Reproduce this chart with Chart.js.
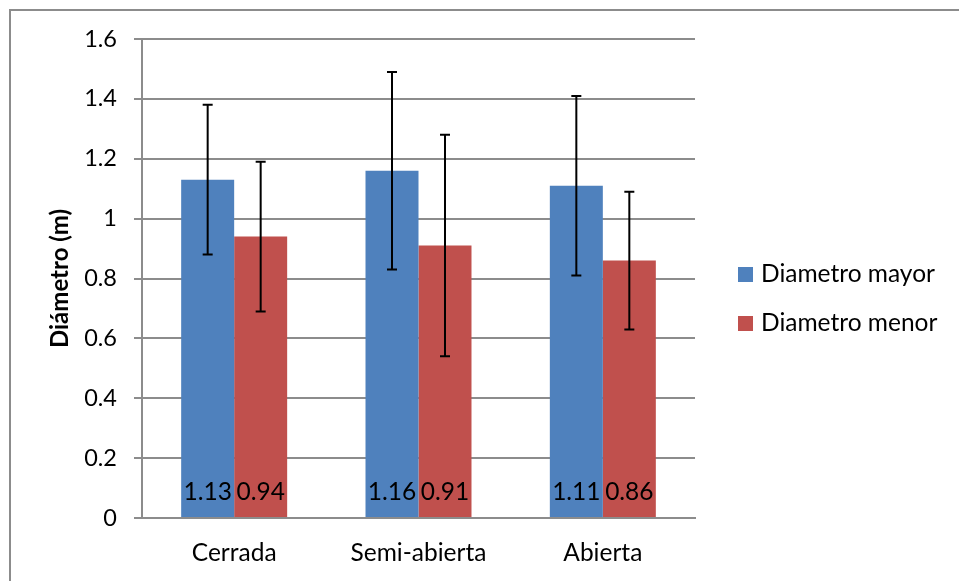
<!DOCTYPE html>
<html>
<head>
<meta charset="utf-8">
<script src="https://cdn.jsdelivr.net/npm/chart.js@4.4.1/dist/chart.umd.min.js"></script>
<style>
body { margin: 0; background: #ffffff; }
#wrap { width: 959px; height: 581px; }
</style>
</head>
<body>
<div id="wrap"><canvas id="myChart" width="959" height="581"></canvas></div>
<script>
const categories = ['Cerrada', 'Semi-abierta', 'Abierta'];
const seriesNames = ['Diametro mayor', 'Diametro menor'];
const mayorValues = [1.13, 1.16, 1.11];
const menorValues = [0.94, 0.91, 0.86];
const mayorErrors = [0.25, 0.33, 0.30];
const menorErrors = [0.25, 0.37, 0.23];
const yMin = 0;
const yMax = 1.6;
const yStep = 0.2;

const fontFamily = 'Lato, "Open Sans", sans-serif';
const gridColor = '#8c8c8c';
const mayorColor = '#4f81bd';
const menorColor = '#c0504d';

const canvas = document.getElementById('myChart');
const context = canvas.getContext('2d');

// thin frame around the chart, only left and top are visible in the picture
const framePlugin = {
    id: 'frame',
    beforeDraw(chart) {
        const ctx = chart.ctx;
        ctx.save();
        ctx.strokeStyle = gridColor;
        ctx.lineWidth = 2;
        ctx.beginPath();
        ctx.moveTo(10, chart.height);
        ctx.lineTo(10, 10);
        ctx.lineTo(chart.width, 10);
        ctx.stroke();
        ctx.restore();
    }
};

// error bars + value labels
const barExtrasPlugin = {
    id: 'barExtras',
    afterDatasetsDraw(chart) {
        const ctx = chart.ctx;
        const yScale = chart.scales.y;
        const zeroY = yScale.getPixelForValue(0);
        ctx.save();
        chart.data.datasets.forEach(function(ds, i) {
            const meta = chart.getDatasetMeta(i);
            meta.data.forEach(function(bar, j) {
                const v = ds.data[j];
                const err = ds.errors[j];

                ctx.fillStyle = '#000000';
                ctx.font = '24.5px ' + fontFamily;
                ctx.textAlign = 'center';
                ctx.textBaseline = 'middle';
                ctx.fillText(v.toFixed(2), bar.x, zeroY - 26);

                const top = yScale.getPixelForValue(v + err);
                const bottom = yScale.getPixelForValue(v - err);
                ctx.strokeStyle = '#000000';
                ctx.lineWidth = 2;
                ctx.beginPath();
                ctx.moveTo(bar.x, top);
                ctx.lineTo(bar.x, bottom);
                ctx.moveTo(bar.x - 5, top);
                ctx.lineTo(bar.x + 5, top);
                ctx.moveTo(bar.x - 5, bottom);
                ctx.lineTo(bar.x + 5, bottom);
                ctx.stroke();
            });
        });
        ctx.restore();
    }
};

const legendPlugin = {
    id: 'sideLegend',
    afterDraw(chart) {
        const ctx = chart.ctx;
        ctx.save();
        ctx.font = '24.5px ' + fontFamily;
        ctx.textAlign = 'left';
        ctx.textBaseline = 'middle';
        chart.data.datasets.forEach(function(ds, i) {
            const cy = 274 + i * 49;
            ctx.fillStyle = ds.backgroundColor;
            ctx.fillRect(738, cy - 7, 15, 15);
            ctx.fillStyle = '#000000';
            ctx.fillText(ds.label, 761, cy);
        });
        ctx.restore();
    }
};

const myChart = new Chart(context, {
    type: 'bar',
    data: {
        labels: categories,
        datasets: [{
            label: seriesNames[0],
            data: mayorValues,
            errors: mayorErrors,
            backgroundColor: mayorColor,
            borderWidth: 0
        }, {
            label: seriesNames[1],
            data: menorValues,
            errors: menorErrors,
            backgroundColor: menorColor,
            borderWidth: 0
        }]
    },
    options: {
        responsive: false,
        animation: false,
        layout: {
            padding: {
                left: 16,
                right: 264,
                top: 39,
                bottom: 0
            }
        },
        datasets: {
            bar: {
                categoryPercentage: 0.575,
                barPercentage: 1.0
            }
        },
        plugins: {
            legend: {
                display: false
            },
            tooltip: {
                enabled: false
            }
        },
        scales: {
            x: {
                grid: {
                    display: false,
                    drawTicks: false
                },
                border: {
                    display: true,
                    color: gridColor,
                    width: 2
                },
                ticks: {
                    color: '#000000',
                    padding: 20,
                    font: { family: fontFamily, size: 24.5 }
                },
                afterFit: function(scale) {
                    scale.height = 63;
                }
            },
            y: {
                min: yMin,
                max: yMax,
                grid: {
                    color: gridColor,
                    lineWidth: 2,
                    tickLength: 8
                },
                border: {
                    display: true,
                    color: gridColor,
                    width: 2
                },
                ticks: {
                    stepSize: yStep,
                    color: '#000000',
                    padding: 17,
                    font: { family: fontFamily, size: 23.5 },
                    callback: function(value) {
                        return String(Number(value.toFixed(1)));
                    }
                },
                title: {
                    display: true,
                    text: 'Diámetro (m)',
                    color: '#000000',
                    font: { family: fontFamily, size: 24, weight: 'bold' },
                    padding: { top: 30, bottom: 0 }
                },
                afterFit: function(scale) {
                    scale.width = 126;
                }
            }
        }
    },
    plugins: [framePlugin, barExtrasPlugin, legendPlugin]
});
</script>
</body>
</html>
